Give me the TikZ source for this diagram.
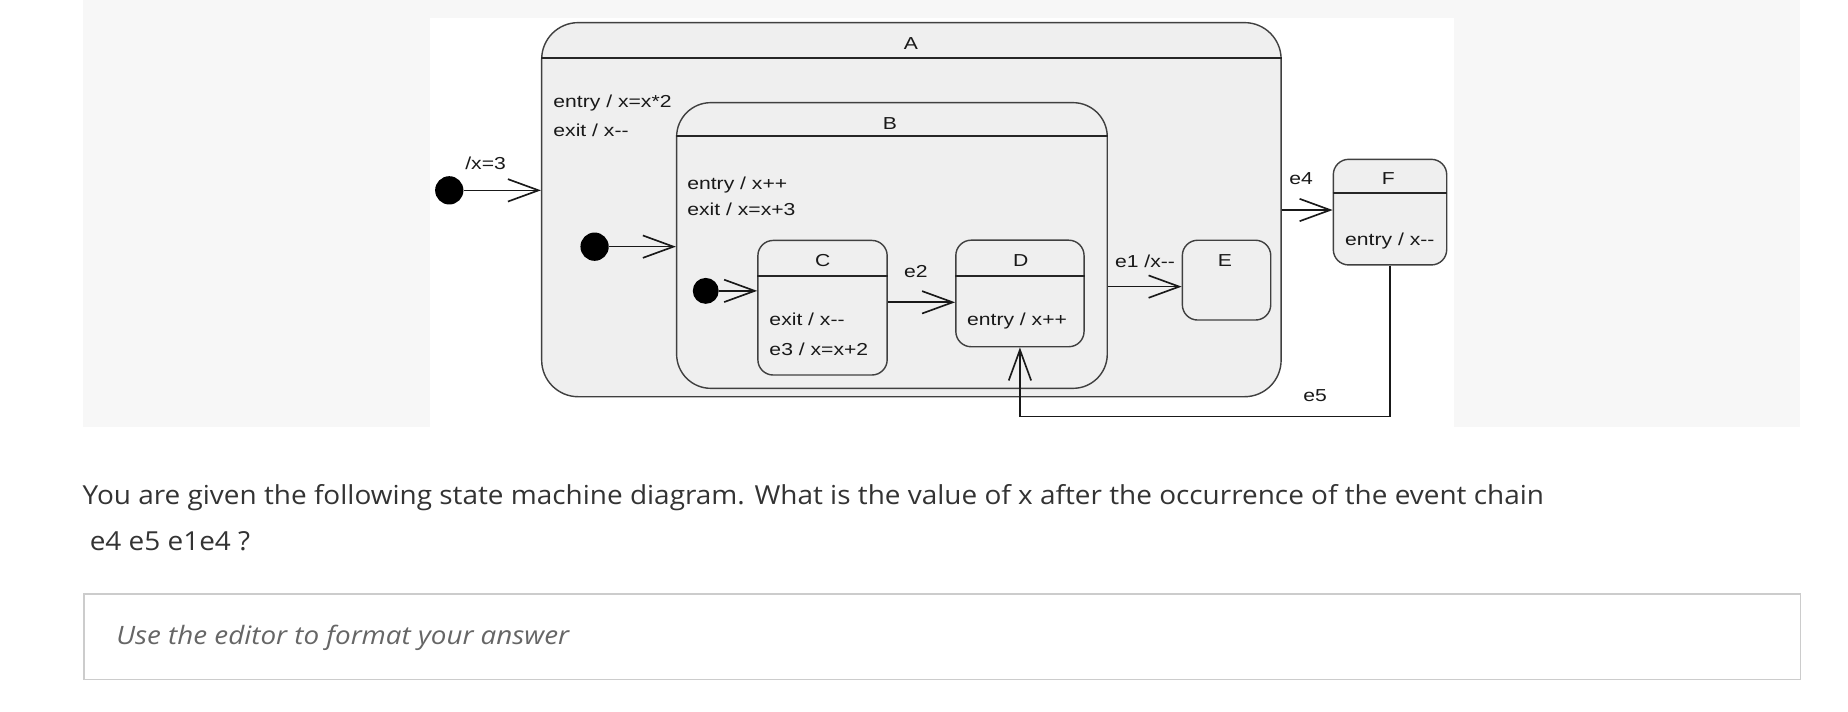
\documentclass[tikz,border=0pt]{standalone}
\usepackage{fontspec}
\setmainfont{Liberation Sans}
\newfontfamily\diagfont[FakeStretch=1.22]{Liberation Sans}
\newfontfamily\qfont[FakeStretch=1.068]{Open Sans}
\newfontfamily\phfont[FakeStretch=1.097]{Open Sans}
\usetikzlibrary{arrows.meta,calc}
\definecolor{panel}{HTML}{F7F7F7}
\definecolor{statefill}{HTML}{EFEFEF}
\definecolor{stateline}{HTML}{404040}
\definecolor{qtext}{HTML}{333333}
\definecolor{phtext}{HTML}{666666}
\definecolor{boxline}{HTML}{CCCCCC}
\tikzset{
  state/.style={draw=stateline, fill=statefill, line width=1.2pt, inner sep=0pt, rectangle},
  bigstate/.style={state, rounded corners=30pt},
  smallstate/.style={state, rounded corners=13pt},
  hdr/.style={draw=black!85, line width=1.5pt},
  trans/.style={draw=black!90, line width=1.4pt, -{Straight Barb[length=26pt,width=19pt]}},
  initial/.style={circle, fill=black, minimum size=24pt, inner sep=0pt},
  lbl/.style={font=\diagfont\fontsize{14.7}{17}\selectfont, text=black!90, inner sep=0pt},
  qstyle/.style={font=\qfont\fontsize{22.2}{26}\selectfont, text=qtext, inner sep=0pt},
  phstyle/.style={font=\phfont\itshape\fontsize{21.5}{25}\selectfont, text=phtext, inner sep=0pt},
}
\begin{document}
\begin{tikzpicture}[x=1pt,y=-1pt]
\useasboundingbox (0,0) rectangle (1568,604);
\fill[panel] (70,0) rectangle (1527.3,362.5);
\fill[white] (365,15) rectangle (1233.7,362.5);

% states
\node[bigstate, rounded corners=31pt, minimum width=627.4pt, minimum height=317.4pt] (A) at (773.3,177.9) {};
\draw[hdr] ($(A.north west)+(0,30.8)$) -- ($(A.north east)+(0,30.8)$);
\node[bigstate, rounded corners=29pt, minimum width=365.4pt, minimum height=242.4pt] (B) at (756.8,208.3) {};
\draw[hdr] ($(B.north west)+(0,28.9)$) -- ($(B.north east)+(0,28.9)$);
\node[smallstate, minimum width=109.7pt, minimum height=114.2pt] (C) at (697.9,261.1) {};
\draw[hdr] ($(C.north west)+(0,30.8)$) -- ($(C.north east)+(0,30.8)$);
\node[smallstate, minimum width=108.8pt, minimum height=90.4pt] (D) at (865.4,249) {};
\draw[hdr] ($(D.north west)+(0,31)$) -- ($(D.north east)+(0,31)$);
\node[smallstate, minimum width=75pt, minimum height=67.7pt] (E) at (1040.7,237.7) {};
\node[smallstate, minimum width=96.2pt, minimum height=89.6pt] (F) at (1179.4,180) {};
\draw[hdr] ($(F.north west)+(0,29.4)$) -- ($(F.north east)+(0,29.4)$);

% initial pseudo-states
\node[initial] (i0) at (381.2,161.5) {};
\node[initial] (i1) at (504.5,209.3) {};
\node[initial, minimum size=22pt] (i2) at (598.8,246.8) {};

% transitions
\draw[trans] (i0) -- (i0 -| A.west);
\draw[trans] (i1) -- (i1 -| B.west);
\draw[trans] (i2) -- (i2 -| C.west);
\coordinate (e2y) at (0,256.5);
\draw[trans] (C.east |- e2y) -- (D.west |- e2y);
\coordinate (e1y) at (0,243.2);
\draw[trans] (B.east |- e1y) -- (E.west |- e1y);
\coordinate (e4y) at (0,178.2);
\draw[trans] (A.east |- e4y) -- (F.west |- e4y);
\coordinate (e5c) at (1000,353.5);
\draw[trans] (F.south) |- (e5c) -| (D.south);

% state texts
\node[lbl, anchor=base] (tA) at (773,42.1) {A};
\node[lbl, anchor=base west] (tA1) at (469.4,91.1) {entry / x=x*2};
\node[lbl, anchor=base west] (tA2) at (469.4,115.4) {exit / x-{}-};
\node[lbl, anchor=base] (tB) at (755,109.9) {B};
\node[lbl, anchor=base west] (tB1) at (583,160.5) {entry / x++};
\node[lbl, anchor=base west] (tB2) at (583,182.5) {exit / x=x+3};
\node[lbl, anchor=base] (tC) at (698,225.9) {C};
\node[lbl, anchor=base west] (tC1) at (652.7,276.3) {exit / x-{}-};
\node[lbl, anchor=base west] (tC2) at (652.7,302) {e3 / x=x+2};
\node[lbl, anchor=base] (tD) at (866,225.9) {D};
\node[lbl, anchor=base west] (tD1) at (820.4,276.4) {entry / x++};
\node[lbl, anchor=base] (tE) at (1039.4,225.9) {E};
\node[lbl, anchor=base] (tF) at (1178,156.6) {F};
\node[lbl, anchor=base west] (tF1) at (1141.2,207.9) {entry / x-{}-};

% transition labels
\node[lbl, anchor=base] (l0) at (412,143.7) {/x=3};
\node[lbl, anchor=base] (l2) at (777,235.8) {e2};
\node[lbl, anchor=base] (l1) at (971.5,227) {e1 /x-{}-};
\node[lbl, anchor=base] (l4) at (1104,156.6) {e4};
\node[lbl, anchor=base] (l5) at (1115.8,340.5) {e5};

% question
\node[qstyle, anchor=base west] (q1) at (70,427.9) {You are given the following state machine diagram. What is the value of x after the occurrence of the event chain};
\node[qstyle, anchor=base west] (q2) at (76,466.7) {e4 e5 e1e4 ?};
\node[draw=boxline, line width=1.3pt, minimum width=1456.3pt, minimum height=72.6pt, inner sep=0pt, anchor=north west] (ans) at (70.7,503.4) {};
\node[phstyle, anchor=base west] (ph) at (98.5,546.7) {Use the editor to format your answer};
\end{tikzpicture}
\end{document}
